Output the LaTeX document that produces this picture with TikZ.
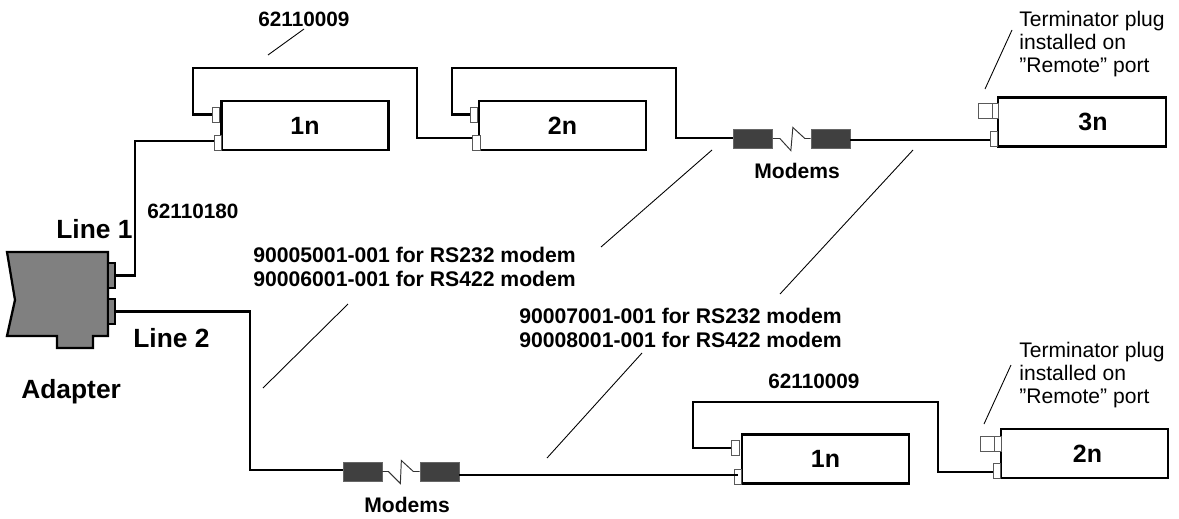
\documentclass[tikz,border=0pt]{standalone}
\usepackage{fontspec}
\setmainfont{Liberation Sans}
\usepackage{tikz}
\usetikzlibrary{positioning}
\tikzset{
  unitbox/.style={draw,line width=1.4pt,fill=white,inner sep=0pt,minimum width=3.34cm,minimum height=0.98cm,font=\fontsize{14.2}{16}\selectfont\bfseries},
  port/.style={draw=black!65,line width=0.55pt,fill=white,inner sep=0pt,minimum width=0.15cm,minimum height=0.3cm},
  plug/.style={port,minimum width=0.28cm},
  adport/.style={draw,line width=1.1pt,fill=black!50,inner sep=0pt,minimum width=0.14cm,minimum height=0.5cm},
  modem/.style={draw=black!60,line width=0.4pt,fill=black!75,inner sep=0pt,minimum width=0.78cm,minimum height=0.38cm},
  cable/.style={line width=1.4pt},
  zig/.style={line width=0.55pt,black!80},
  leader/.style={line width=0.5pt},
  lab/.style={anchor=base west,inner sep=0pt,font=\fontsize{11.8}{13.4}\selectfont\bfseries},
  biglab/.style={anchor=base west,inner sep=0pt,font=\fontsize{15}{16}\selectfont\bfseries},
  note/.style={anchor=north west,inner sep=0pt,align=left,font=\fontsize{12}{12.95}\selectfont},
  partno/.style={anchor=north west,inner sep=0pt,align=left,font=\fontsize{12.05}{13.4}\selectfont\bfseries}
}
\begin{document}
\begin{tikzpicture}[x=0.02cm,y=-0.02cm]
\useasboundingbox (0,0) rectangle (1179,518);
\draw[line width=1.3pt,fill=black!50] (7,252) -- (108,252) -- (108,336) -- (93,336) -- (93,348) -- (57,348) -- (57,336) -- (7,336) -- (15,300) -- cycle;
\node[adport] (a1) at (111.5,275.5) {};
\node[adport] (a2) at (111.5,311.5) {};

\node[unitbox] (u1) at (305,125.5) {1n};
\node[unitbox] (u2) at (562.5,125.5) {2n};
\node[unitbox,minimum width=3.36cm] (u3) at (1082,122) {\hspace{0.44cm}3n};
\node[unitbox] (v1) at (825.5,459) {1n};
\node[unitbox,minimum width=3.34cm] (v2) at (1084.5,453.5) {\hspace{0.12cm}2n};

\node[port] (p1a) at (216,114.5) {};
\node[port] (p1b) at (218,142.5) {};
\node[port] (p2a) at (474,114.5) {};
\node[port] (p2b) at (476.5,142.5) {};
\node[port] (p3b) at (994,139) {};
\node[plug] (t3) at (985,110.5) {};
\node[port,minimum width=0.12cm] (p3a) at (995,110.5) {};
\node[port] (q1a) at (735.5,448) {};
\node[port] (q1b) at (738,476.5) {};
\node[port] (q2b) at (997,470.5) {};
\node[plug] (t2) at (987.5,443.5) {};
\node[port,minimum width=0.14cm] (q2a) at (997.5,443.5) {};

\node[modem] (m1) at (753,138.5) {};
\node[modem] (m2) at (830.5,138.5) {};
\node[modem] (m3) at (362.5,471.5) {};
\node[modem] (m4) at (439.5,471.5) {};

\coordinate (c1) at (135,141);
\coordinate (c2) at (193,115);
\coordinate (c3) at (193,68);
\coordinate (c4) at (417,68);
\coordinate (c5) at (417,138);
\coordinate (c6) at (452,115);
\coordinate (c7) at (452,68);
\coordinate (c8) at (676,68);
\coordinate (c9) at (676,138);
\coordinate (c10) at (850,140);
\coordinate (c11) at (250,470);
\coordinate (c12) at (459,475);
\coordinate (c13) at (693,449);
\coordinate (c14) at (693,402);
\coordinate (c15) at (938,402);
\coordinate (c16) at (938,472);

\draw[cable] (a1.east) -| (c1) -- (c1 -| p1b.west);
\draw[cable] (p1a.west) -- (p1a.west -| c2) -- (c3) -- (c4) -- (c5) -- (c5 -| p2b.west);
\draw[cable] (p2a.west) -- (p2a.west -| c6) -- (c7) -- (c8) -- (c9) -- (c9 -| m1.west);
\draw[cable] (c10) -- (c10 -| p3b.west);
\draw[cable] (a2.east) -| (c11) -- (c11 -| m3.west);
\draw[cable] (c12) -- (c12 -| q1b.center);
\draw[cable] (q1a.west) -- (q1a.west -| c13) -- (c14) -- (c15) -- (c16) -- (c16 -| q2b.west);

\draw[zig] (m1.east) -- ++(7,0) -- ++(11,12) -- ++(2,-23) -- ++(12,11) -- (m2.west);
\draw[zig] (m3.east) -- ++(6,0) -- ++(12,12) -- ++(1,-23) -- ++(12,11) -- (m4.west);

\coordinate (k1) at (268,55);
\coordinate (k2) at (304,29);
\coordinate (k3) at (985,89);
\coordinate (k4) at (1012,30);
\coordinate (k5) at (712,150);
\coordinate (k6) at (601,247);
\coordinate (k7) at (263,388);
\coordinate (k8) at (348,304);
\coordinate (k9) at (913,150);
\coordinate (k10) at (780,294);
\coordinate (k11) at (642,353);
\coordinate (k12) at (547,458);
\coordinate (k13) at (984,424);
\coordinate (k14) at (1011,365);
\draw[leader] (k1) -- (k2);
\draw[leader] (k3) -- (k4);
\draw[leader] (k5) -- (k6);
\draw[leader] (k7) -- (k8);
\draw[leader] (k9) -- (k10);
\draw[leader] (k11) -- (k12);
\draw[leader] (k13) -- (k14);

\node[lab] (w1) at (258,26) {62110009};
\node[lab] (w2) at (147,218) {62110180};
\node[lab] (w3) at (768,388) {62110009};
\node[lab,font=\fontsize{12}{13.4}\selectfont\bfseries] (mod1) at (754,178) {Modems};
\node[lab,font=\fontsize{12}{13.4}\selectfont\bfseries] (mod2) at (364,512) {Modems};
\node[biglab] (line1) at (56,238) {Line 1};
\node[biglab] (line2) at (133,347) {Line 2};
\node[biglab] (adapter) at (21,398) {Adapter};
\node[partno] (n1) at (253,247) {90005001-001 for RS232 modem\\90006001-001 for RS422 modem};
\node[partno] (n2) at (519,308) {90007001-001 for RS232 modem\\90008001-001 for RS422 modem};
\node[note] (tp1) at (1019,11) {Terminator plug\\installed on\\”Remote” port};
\node[note] (tp2) at (1019,342) {Terminator plug\\installed on\\”Remote” port};
\end{tikzpicture}
\end{document}
